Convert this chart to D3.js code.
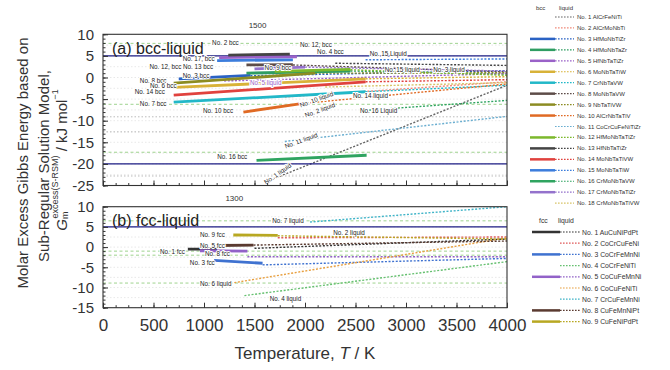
<!DOCTYPE html>
<html><head><meta charset="utf-8">
<script src="https://cdn.jsdelivr.net/npm/d3@7"></script>
<style>body{margin:0;background:#fff;} svg{font-family:"Liberation Sans",Arial,sans-serif;}</style>
</head><body><svg id="c" width="670" height="370"></svg>
<script>
// ---------------- DATA ----------------
const tempTicks = [0,500,1000,1500,2000,2500,3000,3500,4000];
const bccYTicks = [10,5,0,-5,-10,-15,-20,-25];
const fccYTicks = [10,5,0,-5,-10,-15];

// bcc–liquid (panel a)
const bccNo = d3.range(1,19);
const bccAlloy = ["AlCrFeNiTi","AlCrMoNbTi","HfMoNbTiZr","HfMoNbTaZr","HfNbTaTiZr","MoNbTaTiW",
  "CrNbTaVW","MoNbTaVW","NbTaTiVW","AlCrNbTaTiV","CoCrCuFeNiTiZr","HfMoNbTaTiZr",
  "HfNbTaTiZr","MoNbTaTiVW","MoNbTaTiW","CrMoNbTaVW","CrMoNbTaTiZr","CrMoNbTaTiVW"];
// bcc solid segment (null = none)
const bccSolidT0 = [null,null,750,1420,1150,700,700,1420,700,1390,null,1700,1240,700,1130,1520,1500,null];
const bccSolidT1 = [null,null,1460,2450,1920,2600,2600,1880,2100,1980,null,2450,1850,2600,1880,2610,2000,null];
const bccSolidG0 = [null,null,-0.3,1.0,4.6,-2.3,-5.7,2.9,-1.3,-8.0,null,1.4,5.2,-4.1,3.9,-19.2,2.0,null];
const bccSolidG1 = [null,null,0.5,1.5,4.8,-0.3,-3.3,3.0,1.0,-6.0,null,1.9,5.4,-1.0,4.1,-18.0,2.4,null];
// bcc liquid line from T start to 4000 K
const bccLiqT0 = [1650,1800,1460,2450,1200,2600,2600,1880,2100,1980,1800,2450,2300,2600,2600,2600,2000,2200];
const bccLiqG0 = [-23.8,-4.5,0.4,1.5,-0.8,-0.3,-3.3,2.9,1.0,-6.0,-14.8,1.8,3.3,-1.0,4.1,-7.6,2.4,-2.2];
const bccLiqG1 = [-1.8,-1.0,1.6,0.8,0.9,0.2,-1.8,1.3,1.1,-1.5,-9.0,0.5,2.8,-0.5,4.3,-5.3,1.5,-1.2];

// fcc–liquid (panel b)
const fccNo = d3.range(1,10);
const fccAlloy = ["AuCuNiPdPt","CoCrCuFeNi","CoCrFeMnNi","CoCrFeNiTi","CoCuFeMnNi","CoCuFeNiTi","CrCuFeMnNi","CuFeMnNiPt","CuFeNiPdPt"];
const fccSolidT0 = [840,null,1100,null,960,null,null,1130,1290];
const fccSolidT1 = [1130,null,1580,null,1430,null,null,1490,1730];
const fccSolidG0 = [-0.5,null,-3.3,null,-0.9,null,null,0.4,3.0];
const fccSolidG1 = [-0.5,null,-4.0,null,-1.0,null,null,0.5,2.9];
const fccLiqT0 = [1500,1730,1580,1400,1430,1300,2050,1490,1730];
const fccLiqG0 = [-0.3,2.3,-4.4,-12.0,-2.4,-8.8,6.2,0.5,2.8];
const fccLiqG1 = [2.0,2.5,-2.8,-3.6,-2.4,2.3,10.0,1.5,2.0];

// horizontal guide levels (kJ/mol)
const bccBoundary = [5,-20];
const fccBoundary = [5];
const bccGreenGuides = [7.9,-6.2,-17.3];
const bccGrayGuides = [-9.1,-12.6,-22.8];
const fccGreenGuides = [6.5,-1.0,-2.0,-8.9];

// annotations [text, T, G, angle]
const bccNotes = [
 ["No. 2 bcc",1080,8.0,0],["No. 17, bcc",790,4.5,0],["No. 12, bcc  No. 13 bcc",460,2.5,0],
 ["No. 3 bcc",790,0.5,0],["No. 8 bcc",365,-0.6,0],["No. 6 bcc",465,-1.8,0],["No. 14 bcc",315,-3.2,0],
 ["No. 7 bcc",365,-6.0,0],["No. 10 bcc",990,-7.6,0],["No. 16 bcc",1130,-18.3,0],["No. 9 bcc",1600,2.4,0],
 ["No. 12, bcc",1950,7.6,0],["No. 4 bcc",2120,6.1,0],["No. 15 Liquid",2640,5.6,0],
 ["No. 15 liquid",2790,1.9,0],["No. 3 liquid",3270,1.9,0],["No. 14 liquid",2475,-4.1,0],
 ["No. 16 Liquid",2545,-7.6,0],["No. 10 liquid",1950,-6.4,-20],["No. 2 liquid",2000,-8.7,-20],
 ["No. 11 liquid",1800,-15.9,-20],["No. 1 liquid",1600,-24.3,-35]];
const bccPurpleNote = ["No. 5 liquid",1455,-1.1];
const fccNotes = [
 ["No. 9 fcc",960,3.0,0],["No. 5 fcc",960,0.5,0],["No. 1 fcc",565,-1.0,0],["No. 8 fcc",1010,-1.7,0],
 ["No. 3 fcc",860,-3.7,0],["No. 6 liquid",960,-9.1,0],["No. 7 liquid",1675,6.7,0],
 ["No. 4 liquid",1650,-12.6,0],["No. 2 liquid",2280,3.5,0]];

// ---------------- STYLE ----------------
const bccColors = ["#666","#f08a7a","#2a62c4","#2f9d62","#9a62c8","#d8b238","#22b8c8","#5d4c48",
  "#8c8c22","#e06a24","#6aaed0","#7cb82c","#444","#e0423e","#3c7ddc","#2fa460","#9472cc","#d8c468"];
const fccColors = ["#333","#e05a5a","#3f72d0","#66c070","#9262c8","#e8a040","#40b4c8","#5a3a30","#b8a822"];

// ---------------- DRAW ----------------
const svg = d3.select("#c");
const x = d3.scaleLinear().domain([0,4000]).range([103,507]);
const yA = d3.scaleLinear().domain([-25,10]).range([185.5,34.3]);
const yB = d3.scaleLinear().domain([-15,10]).range([307.7,206.7]);

function panel(cfg){
  const y = cfg.y, g = svg.append("g");
  const [yb, yt] = y.range();
  const clipId = "clip"+cfg.id;
  svg.append("clipPath").attr("id",clipId).append("rect")
    .attr("x",x(0)).attr("y",yt).attr("width",x(4000)-x(0)).attr("height",yb-yt);
  const pg = g.append("g").attr("clip-path",`url(#${clipId})`);
  // faint grid
  pg.selectAll(".grid").data(d3.range(y.domain()[0], y.domain()[1]+0.01, 2.5)).join("line")
    .attr("x1",x(0)).attr("x2",x(4000)).attr("y1",d=>y(d)).attr("y2",d=>y(d))
    .attr("stroke","#e2e2e2").attr("stroke-width",0.8).attr("stroke-dasharray","1.5,2");
  pg.selectAll(".gg").data(cfg.green).join("line")
    .attr("x1",x(0)).attr("x2",x(4000)).attr("y1",d=>y(d)).attr("y2",d=>y(d))
    .attr("stroke","#9fd38f").attr("stroke-width",1).attr("stroke-dasharray","3,2.5");
  pg.selectAll(".gy").data(cfg.gray).join("line")
    .attr("x1",x(0)).attr("x2",x(4000)).attr("y1",d=>y(d)).attr("y2",d=>y(d))
    .attr("stroke","#bbb").attr("stroke-width",1).attr("stroke-dasharray","1.5,2");
  // liquid lines
  const line = d3.line().x(d=>x(d[0])).y(d=>y(d[1]));
  cfg.liqT0.forEach((t0,i)=>{
    pg.append("path").attr("d",line([[t0,cfg.liqG0[i]],[4000,cfg.liqG1[i]]]))
      .attr("fill","none").attr("stroke",cfg.colors[i]).attr("stroke-width",1.4)
      .attr("stroke-dasharray","2,1.6");
  });
  // boundaries
  pg.selectAll(".bd").data(cfg.boundary).join("line")
    .attr("x1",x(0)).attr("x2",x(4000)).attr("y1",d=>y(d)).attr("y2",d=>y(d))
    .attr("stroke","#1c1c84").attr("stroke-width",1.4);
  // solid segments
  cfg.sT0.forEach((t0,i)=>{
    if(t0===null) return;
    pg.append("path").attr("d",line([[t0,cfg.sG0[i]],[cfg.sT1[i],cfg.sG1[i]]]))
      .attr("fill","none").attr("stroke",cfg.colors[i]).attr("stroke-width",2.8);
  });
  // notes
  cfg.notes.forEach(n=>{
    pg.append("text").attr("transform",`translate(${x(n[1])},${y(n[2])}) rotate(${n[3]})`)
      .attr("dominant-baseline","central").attr("font-size",6.3).attr("fill",n[4]||"#222")
      .attr("stroke","#fff").attr("stroke-width",2).attr("paint-order","stroke")
      .text(n[0]);
  });
  // frame
  g.append("rect").attr("x",x(0)).attr("y",yt).attr("width",x(4000)-x(0)).attr("height",yb-yt)
    .attr("fill","none").attr("stroke","#333").attr("stroke-width",1.1);
  // axes
  const ya = g.append("g").attr("transform",`translate(${x(0)},0)`)
    .call(d3.axisLeft(y).tickValues(cfg.yTicks).tickSize(-5).tickPadding(9).tickFormat(d=>String(d)));
  ya.select(".domain").remove();
  ya.selectAll("text").attr("font-size",15).attr("fill","#333").attr("font-family","Liberation Sans, Arial");
  ya.selectAll("line").attr("stroke","#333");
  const yMinor = d3.range(y.domain()[0], y.domain()[1]+0.01, 1);
  const ym = g.append("g").attr("transform",`translate(${x(0)},0)`)
    .call(d3.axisLeft(y).tickValues(yMinor).tickSize(-2.5).tickFormat(""));
  ym.select(".domain").remove(); ym.selectAll("line").attr("stroke","#333");
  const xa = g.append("g").attr("transform",`translate(0,${yb})`)
    .call(d3.axisBottom(x).tickValues(tempTicks).tickSize(-5).tickPadding(11)
      .tickFormat(cfg.xLabels ? d=>String(d) : ""));
  xa.select(".domain").remove();
  xa.selectAll("line").attr("stroke","#333");
  xa.selectAll("text").attr("font-size",17).attr("fill","#333").attr("font-family","Liberation Sans, Arial");
  const xm = g.append("g").attr("transform",`translate(0,${yb})`)
    .call(d3.axisBottom(x).tickValues(d3.range(0,4001,125)).tickSize(-2.5).tickFormat(""));
  xm.select(".domain").remove(); xm.selectAll("line").attr("stroke","#333");
  // panel title
  g.append("text").attr("x",112).attr("y",y(cfg.titleG)).attr("dominant-baseline","central")
    .attr("font-size",16).attr("fill","#222").text(cfg.title);
  g.append("text").attr("x",x(cfg.topT)).attr("y",yt-6).attr("text-anchor","middle")
    .attr("font-size",8).attr("fill","#333").text(cfg.topLabel);
}

panel({id:"a", y:yA, yTicks:bccYTicks, colors:bccColors, green:bccGreenGuides, gray:bccGrayGuides,
  boundary:bccBoundary, liqT0:bccLiqT0, liqG0:bccLiqG0, liqG1:bccLiqG1,
  sT0:bccSolidT0, sT1:bccSolidT1, sG0:bccSolidG0, sG1:bccSolidG1,
  notes: bccNotes.concat([[bccPurpleNote[0],bccPurpleNote[1],bccPurpleNote[2],0,"#9a62c8"]]),
  xLabels:false, title:"(a) bcc-liquid", titleG:6.8, topT:1530, topLabel:"1500"});
panel({id:"b", y:yB, yTicks:fccYTicks, colors:fccColors, green:fccGreenGuides, gray:[],
  boundary:fccBoundary, liqT0:fccLiqT0, liqG0:fccLiqG0, liqG1:fccLiqG1,
  sT0:fccSolidT0, sT1:fccSolidT1, sG0:fccSolidG0, sG1:fccSolidG1,
  notes:fccNotes, xLabels:true, title:"(b) fcc-liquid", titleG:6.7, topT:1300, topLabel:"1300"});

// axis titles
const xt = svg.append("text").attr("x",305).attr("y",359).attr("text-anchor","middle")
  .attr("font-size",17).attr("fill","#333");
xt.append("tspan").text("Temperature, ");
xt.append("tspan").attr("font-style","italic").text("T");
xt.append("tspan").text(" / K");

svg.append("text").attr("transform","translate(22,163) rotate(-90)").attr("text-anchor","middle")
  .attr("dominant-baseline","central").attr("font-size",15).attr("fill","#333")
  .text("Molar Excess Gibbs Energy based on");
svg.append("text").attr("transform","translate(43,166) rotate(-90)").attr("text-anchor","middle")
  .attr("dominant-baseline","central").attr("font-size",15).attr("fill","#333")
  .text("Sub-Regular Solution Model,");
const t3 = svg.append("text").attr("transform","translate(61,160) rotate(-90)").attr("text-anchor","middle")
  .attr("dominant-baseline","central").attr("font-size",15).attr("fill","#333");
t3.append("tspan").attr("font-style","italic").text("G");
t3.append("tspan").attr("font-size",9).attr("dy",4).text("m");
t3.append("tspan").attr("font-size",9).attr("dx",-7).attr("dy",-10).text("excess(S-RSM)");
t3.append("tspan").attr("dy",6).text(" / kJ mol");
t3.append("tspan").attr("font-size",9).attr("dy",-6).text("−1");

// legend
const lg = svg.append("g").attr("font-size",6).attr("fill","#333");
lg.append("text").attr("x",536).attr("y",8).attr("dominant-baseline","central").text("bcc");
lg.append("text").attr("x",559).attr("y",8).attr("dominant-baseline","central").text("liquid");
bccNo.forEach((n,i)=>{
  const yy = 17 + i*10.95;
  if(bccSolidT0[i]!==null) lg.append("line").attr("x1",530).attr("x2",555).attr("y1",yy).attr("y2",yy)
    .attr("stroke",bccColors[i]).attr("stroke-width",2.5);
  lg.append("line").attr("x1",555).attr("x2",574).attr("y1",yy).attr("y2",yy)
    .attr("stroke",bccColors[i]).attr("stroke-width",1.2).attr("stroke-dasharray","1.6,1.4");
  lg.append("text").attr("x",577).attr("y",yy).attr("dominant-baseline","central")
    .text(`No. ${n} ${bccAlloy[i]}`);
});
const fg = svg.append("g").attr("font-size",6.8).attr("fill","#333");
fg.append("text").attr("x",539).attr("y",220).attr("dominant-baseline","central").text("fcc");
fg.append("text").attr("x",558).attr("y",220).attr("dominant-baseline","central").text("liquid");
fccNo.forEach((n,i)=>{
  const yy = 232 + i*11.2;
  if(fccSolidT0[i]!==null) fg.append("line").attr("x1",532).attr("x2",560).attr("y1",yy).attr("y2",yy)
    .attr("stroke",fccColors[i]).attr("stroke-width",2.5);
  fg.append("line").attr("x1",560).attr("x2",580).attr("y1",yy).attr("y2",yy)
    .attr("stroke",fccColors[i]).attr("stroke-width",1.2).attr("stroke-dasharray","1.6,1.4");
  fg.append("text").attr("x",582).attr("y",yy).attr("dominant-baseline","central")
    .text(`No. ${n} ${fccAlloy[i]}`);
});
</script></body></html>
